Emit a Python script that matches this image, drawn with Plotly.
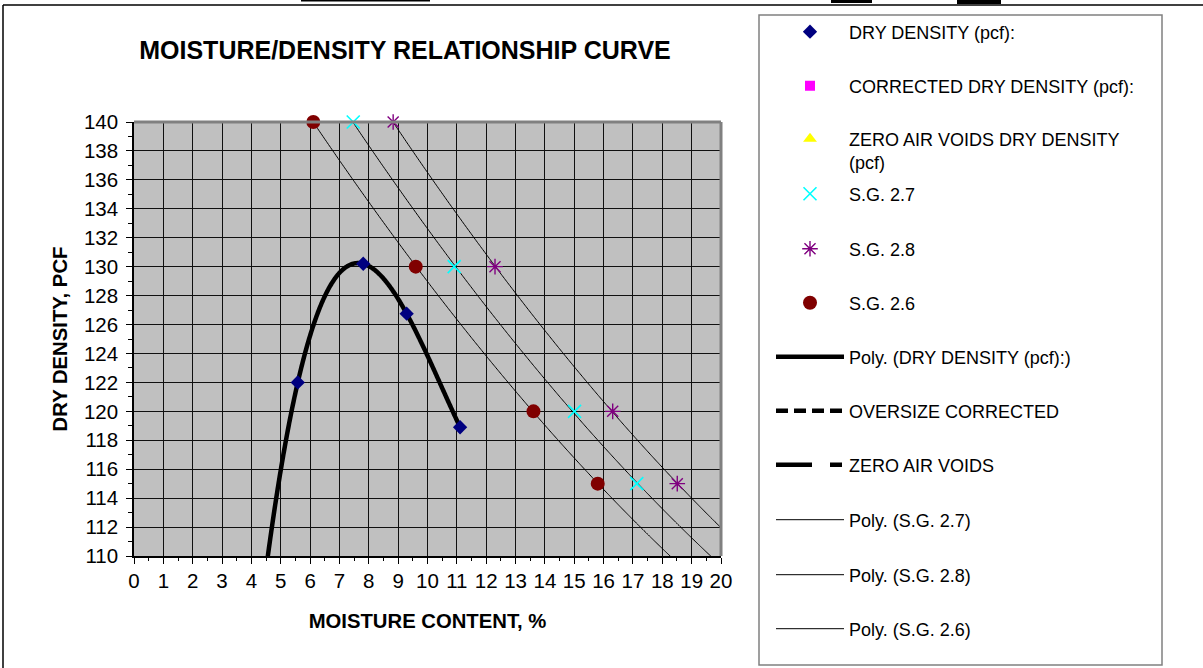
import numpy as np
import plotly.graph_objects as go

# ---------------- data ----------------
moisture_dry = [5.58, 7.81, 9.29, 11.11]
density_dry = [122.0, 130.2, 126.75, 118.9]

zav_density = [140, 130, 120, 115]
moisture_sg26 = [6.11, 9.60, 13.61, 15.80]
moisture_sg27 = [7.47, 10.91, 15.01, 17.13]
moisture_sg28 = [8.83, 12.30, 16.31, 18.51]

x_ticks = list(range(0, 21))
y_ticks = list(range(110, 141, 2))

# ---------------- geometry helpers ----------------
W, H = 1203, 668
ML, MR, MT, MB = 134, 482, 122, 112
PW, PH = W - ML - MR, H - MT - MB


def px(xp):
    return (xp - ML) / PW


def py(yp):
    return (H - MB - yp) / PH


FONT = "Liberation Sans, Arial, sans-serif"

fig = go.Figure()


def trend(xs, ys, order, back=0.0, fwd=0.0):
    c = np.polyfit(xs, ys, order)
    xx = np.linspace(xs[0] - back, xs[-1] + fwd, 400)
    return xx, np.polyval(c, xx)


row_y = {
    "legend": 32, "legend2": 86, "legend3": 150.5, "legend4": 194, "legend5": 249,
    "legend6": 303, "legend7": 357, "legend8": 411, "legend9": 465,
    "legend10": 520, "legend11": 575, "legend12": 629,
}

# empty-series legend entries
fig.add_trace(go.Scatter(x=[None], y=[None], mode="markers",
                         name="CORRECTED DRY DENSITY (pcf):", legend="legend2",
                         marker=dict(symbol="square", color="#FF00FF", size=10)))
fig.add_trace(go.Scatter(x=[None], y=[None], mode="markers",
                         name="ZERO AIR VOIDS DRY DENSITY<br>(pcf)", legend="legend3",
                         marker=dict(symbol="triangle-up", color="#FFFF00", size=12)))

# thin trend lines
for xs, nm, lg in [(moisture_sg27, "Poly. (S.G. 2.7)", "legend10"),
                   (moisture_sg28, "Poly. (S.G. 2.8)", "legend11"),
                   (moisture_sg26, "Poly. (S.G. 2.6)", "legend12")]:
    tx, ty = trend(xs, zav_density, 2, fwd=5)
    fig.add_trace(go.Scatter(x=tx, y=ty, mode="lines", name=nm, legend=lg,
                             line=dict(color="#000000", width=1, simplify=False)))

# thick dry density trend
tx, ty = trend(moisture_dry, density_dry, 3, back=1.05)
fig.add_trace(go.Scatter(x=tx, y=ty, mode="lines", name="Poly. (DRY DENSITY (pcf):)",
                         legend="legend7",
                         line=dict(color="#000000", width=4.5, simplify=False)))
fig.add_trace(go.Scatter(x=[None], y=[None], mode="lines", name="OVERSIZE CORRECTED",
                         legend="legend8",
                         line=dict(color="#000000", width=4.5, dash="12px,6px")))
fig.add_trace(go.Scatter(x=[None], y=[None], mode="lines", name="ZERO AIR VOIDS",
                         legend="legend9",
                         line=dict(color="#000000", width=4.5, dash="36px,18px,12px,12px")))

# markers
fig.add_trace(go.Scatter(x=moisture_dry, y=density_dry, mode="markers",
                         name="DRY DENSITY (pcf):", legend="legend",
                         marker=dict(symbol="diamond", color="#000080", size=11),
                         cliponaxis=False))
fig.add_trace(go.Scatter(x=moisture_sg27, y=zav_density, mode="markers", name="S.G. 2.7",
                         legend="legend4",
                         marker=dict(symbol="x-thin-open", color="#00FFFF", size=13,
                                     line=dict(width=1.6, color="#00FFFF")),
                         cliponaxis=False))
fig.add_trace(go.Scatter(x=moisture_sg28, y=zav_density, mode="markers", name="S.G. 2.8",
                         legend="legend5",
                         marker=dict(symbol="asterisk-open", color="#800080", size=13,
                                     line=dict(width=1.4, color="#800080")),
                         cliponaxis=False))
fig.add_trace(go.Scatter(x=moisture_sg26, y=zav_density, mode="markers", name="S.G. 2.6",
                         legend="legend6",
                         marker=dict(symbol="circle", color="#800000", size=14),
                         cliponaxis=False))

# legends (one per entry, so rows can be spaced like the original)
LEG_X = px(771)
layout_legends = {}
for key, yy in row_y.items():
    layout_legends[key] = dict(
        x=LEG_X, y=py(yy), xref="paper", yref="paper", xanchor="left", yanchor="middle",
        bgcolor="rgba(0,0,0,0)", borderwidth=0, itemwidth=68,
        font=dict(family=FONT, size=18, color="#000000"),
        itemclick=False, itemdoubleclick=False,
    )
layout_legends["legend3"]["valign"] = "top"

shapes = [
    # outer chart frame (partially visible)
    dict(type="line", xref="paper", yref="paper", x0=px(3), x1=px(1203), y0=py(5), y1=py(5),
         line=dict(color="#000000", width=1.5)),
    dict(type="line", xref="paper", yref="paper", x0=px(3), x1=px(3), y0=py(5), y1=py(668),
         line=dict(color="#000000", width=1.5)),
    # spreadsheet fragments at the top
    dict(type="line", xref="paper", yref="paper", x0=px(301), x1=px(430), y0=py(0.5), y1=py(0.5),
         line=dict(color="#000000", width=2)),
    dict(type="rect", xref="paper", yref="paper", x0=px(831), x1=px(872), y0=py(0), y1=py(3),
         line=dict(width=0), fillcolor="#000000"),
    dict(type="rect", xref="paper", yref="paper", x0=px(957), x1=px(1001), y0=py(0), y1=py(4),
         line=dict(width=0), fillcolor="#000000"),
    # legend frame
    dict(type="rect", xref="paper", yref="paper", x0=px(759), x1=px(1162), y0=py(15), y1=py(665),
         line=dict(color="#808080", width=1.5)),
    # plot border top/right
    dict(type="line", xref="paper", yref="paper", x0=0, x1=1, y0=1, y1=1,
         line=dict(color="#808080", width=3), layer="above"),
    dict(type="line", xref="paper", yref="paper", x0=1, x1=1, y0=0, y1=1,
         line=dict(color="#808080", width=3), layer="above"),
]

fig.update_layout(
    width=W, height=H,
    margin=dict(l=ML, r=MR, t=MT, b=MB, pad=0),
    paper_bgcolor="#FFFFFF", plot_bgcolor="#C0C0C0",
    font=dict(family=FONT, color="#000000"),
    title=dict(text="<b>MOISTURE/DENSITY RELATIONSHIP CURVE</b>", x=405 / W, y=1 - 50 / H,
               xanchor="center", yanchor="middle", font=dict(size=25, family=FONT)),
    xaxis=dict(range=[0, 20], tickvals=x_ticks, ticktext=[str(v) for v in x_ticks],
               showgrid=True, gridcolor="#101010", gridwidth=1.2, zeroline=False,
               showline=True, linecolor="#000000", linewidth=1.5,
               ticks="outside", ticklen=6, tickwidth=1.2, tickcolor="#000000",
               minor=dict(dtick=0.5, ticks="outside", ticklen=3, tickcolor="#000000", showgrid=False),
               tickfont=dict(size=20.5, family=FONT),
               title=dict(text="<b>MOISTURE CONTENT, %</b>", font=dict(size=20.3, family=FONT), standoff=22)),
    yaxis=dict(range=[110, 140], tickvals=y_ticks, ticktext=[str(v) for v in y_ticks],
               showgrid=True, gridcolor="#101010", gridwidth=1.2, zeroline=False,
               showline=True, linecolor="#000000", linewidth=1.5,
               ticks="outside", ticklen=6, tickwidth=1.2, tickcolor="#000000",
               minor=dict(dtick=1, ticks="outside", ticklen=4, tickcolor="#000000", showgrid=False),
               tickfont=dict(size=20.5, family=FONT), ticklabelstandoff=4,
               title=dict(text="<b>DRY DENSITY, PCF</b>", font=dict(size=20.3, family=FONT), standoff=11)),
    shapes=shapes,
    showlegend=True,
    **layout_legends,
)

fig.write_html(
    "out.html",
    config={"displayModeBar": False},
    post_script="document.body.style.margin='0px';document.body.style.overflow='hidden';",
)
